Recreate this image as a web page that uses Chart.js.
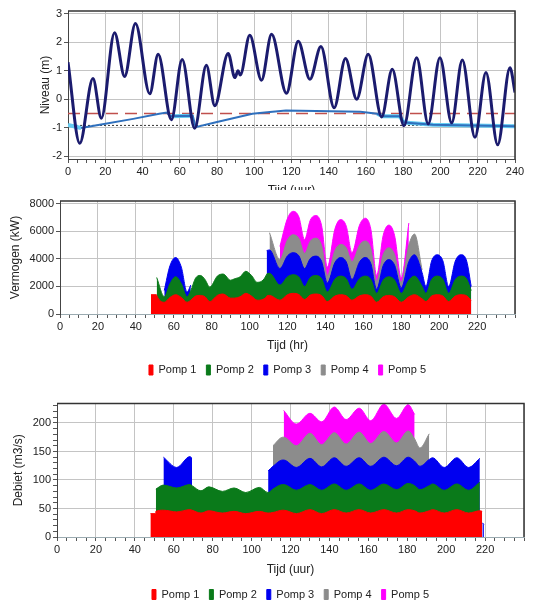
<!DOCTYPE html>
<html>
<head>
<meta charset="utf-8">
<script src="https://cdn.jsdelivr.net/npm/chart.js@4.4.1/dist/chart.umd.min.js"></script>
<style>
  html, body { margin: 0; padding: 0; background: #fff; overflow: hidden; width: 535px; height: 605px; }
  .paneel { position: absolute; left: 0; width: 535px; background: #fff; }
  .paneel canvas { display: block; }
  #p1 { top: 0; height: 200px; }
  #p2 { top: 190px; height: 200px; }
  #p3 { top: 395px; height: 215px; }
</style>
</head>
<body>
<div class="paneel" id="p1"><canvas id="niveau" width="535" height="200"></canvas></div>
<div class="paneel" id="p2"><canvas id="vermogen" width="535" height="200"></canvas></div>
<div class="paneel" id="p3"><canvas id="debiet" width="535" height="215"></canvas></div>
<script>
// --- as-labels ---
const tijdTicks = [0, 20, 40, 60, 80, 100, 120, 140, 160, 180, 200, 220, 240]
const niveauTicks = [-2, -1, 0, 1, 2, 3]
const vermogenTicks = [0, 2000, 4000, 6000, 8000]
const debietTicks = [0, 50, 100, 150, 200]

// --- niveau (m) ---
const tijdBuiten = [0, 6.3, 13.4, 17.9, 25, 30.4, 36.2, 43.9, 48.4, 55.5, 61.3, 68, 74.3, 78.8, 86, 89.6, 91.3, 92.5, 97.6, 103.9, 109.3, 117.3, 123.6, 129.9, 135.8, 142.9, 149, 155, 161.2, 168.4, 174.1, 180.4, 187.2, 193.4, 199.7, 206, 211.7, 218.5, 224.4, 230.7, 237.3, 240]
const niveauBuiten = [1.3, -1.55, 0.73, -0.67, 2.34, 0.8, 2.66, 0.19, 1.58, -0.72, 1.4, -1.02, 1.19, -0.23, 1.61, 0.76, 1.0, 0.85, 2.25, 0.67, 2.28, 0.21, 2.04, 0.7, 1.85, -0.3, 1.43, 0.0, 1.58, -0.62, 1.05, -0.93, 1.46, -0.87, 1.46, -0.83, 1.38, -1.34, 0.94, -1.6, 1.11, 0.24]

const tijdBinnen = [0, 7, 17, 35, 49, 53, 55, 67, 68.5, 80, 99, 107, 117, 157, 166, 169, 178, 180.5, 196, 218, 240]
const peilBlauw = [null, -1.01, -0.9, -0.69, -0.51, -0.47, -0.6, -0.58, -0.98, -0.8, -0.51, -0.46, -0.4, -0.44, -0.51, -0.6, -0.6, -0.82, -0.9, -0.92, -0.95]
const peilCyaan = [-0.9, -1.01, null, null, null, null, -0.6, -0.58, null, null, null, null, null, null, -0.51, -0.6, -0.6, -0.82, -0.9, -0.92, -0.95]

const grensTijd = [0, 240]
const maxPeil = [-0.5, -0.5]
const minPeil = [-0.92, -0.92]

// --- vermogen (kW) per pomp ---
const tijdVermogen = [48, 50.9, 51, 55, 58, 61, 64, 67, 69, 71.5, 74, 76.5, 79, 83, 86, 90, 92, 95, 98, 101, 104, 108.9, 109, 110.5,
    116, 120, 123, 126, 129, 132, 135, 138, 141, 145, 148, 151, 154, 158, 161, 164, 167, 170.5, 173.5, 176.5, 180, 184, 187, 191, 193, 196, 199, 202, 205, 208.5, 211.5, 214.5, 216.9]
const vPomp1 = [1400, 1400, 1350, 850, 1200, 1400, 1200, 850, 1000, 1300, 1350, 1250, 900, 1350, 1450, 1150, 1150, 1250, 1500, 1300, 1000, 1250, 1300, 1350,
    1000, 1400, 1500, 1410, 1050, 1370, 1450, 1340, 900, 1300, 1400, 1320, 1000, 1320, 1400, 1290, 850, 1250, 1350, 1250, 850, 1250, 1400, 1100, 900, 1300, 1400, 1300, 900, 1300, 1400, 1320, 1000]
const vPomp2 = [null, null, 1300, 400, 1000, 1300, 1000, 400, 700, 1300, 1450, 1250, 1050, 1400, 1450, 1300, 1400, 1450, 1600, 1500, 1300, 1600, 1600, 1600,
    1100, 1300, 1350, 1270, 950, 1270, 1350, 1220, 700, 1220, 1350, 1240, 800, 1240, 1350, 1210, 650, 1210, 1350, 1210, 650, 1200, 1350, 900, 600, 1200, 1350, 1200, 600, 1200, 1350, 1220, 700]
const vPomp3 = [null, null, null, 450, 1300, 1400, 1200, 350, 400, null, null, null, null, null, null, null, null, null, null, null, null, null, 1700, 1700,
    1200, 1520, 1600, 1540, 1300, 1380, 1400, 1250, 650, 1210, 1350, 1220, 700, 1220, 1350, 1140, 300, 1060, 1250, 1080, 400, 1350, 1550, 1000, 500, 1340, 1550, 1340, 500, 1340, 1550, 1300, 300]
const vPomp4 = [null, null, null, null, null, null, null, null, null, null, null, null, null, null, null, null, null, null, null, null, null, null, null, 1250,
    650, 1170, 1300, 1260, 1100, 1260, 1300, 1150, 550, 870, 950, 1020, 1300, 1220, 1200, 1080, 600, 800, 850, 760, 400, 1200, 1500, 200, null, null, null, null, null, null, null, null, null]
const vPomp5 = [null, null, null, null, null, null, null, null, null, null, null, null, null, null, null, null, null, null, null, null, null, null, null, null,
    950, 1550, 1700, 1560, 1000, 1520, 1650, 1440, 600, 1560, 1800, 1570, 650, 1450, 1650, 1400, 400, 1400, 1650, 1380, 300, 1600, null, null, null, null, null, null, null, null, null, null, null]

// --- debiet (m3/s) per pomp ---
const tijdDebiet = [48, 50.7, 50.8, 54.6, 54.7, 61.5, 68.3, 69.4, 74, 78, 85, 91, 97, 104, 108.4, 108.5, 111, 116, 116.5, 123, 130, 136, 142.5, 148.6, 155.3, 161.2, 168, 174.5, 180.5, 183.8, 186.5, 191.3, 193, 199, 205.5, 211.5, 217.3, 218.5, 218.6, 219.4]
const dPomp1 = [41, 41, 45, 47, 47, 44, 48, 47, 42, 46, 42, 45, 41, 45, 42, 42, 43, 47, 47, 41, 48, 41, 48, 42, 48, 42, 48, 42, 48, 46, 42, 46, 48, 42, 48, 42, 46, 45, null, null]
const dPomp2 = [null, null, 39, 44, 44, 42, 44, 43, 39, 42, 38, 41, 37, 42, 36, 36, 41, 45, 45, 41, 44, 41, 45, 40, 45, 40, 45, 41, 46, 44, 41, 44, 45, 40, 45, 40, 50, null, null, null]
const dPomp3 = [null, null, null, null, 49, 36, 49, 48, null, null, null, null, null, null, null, 38, 40, 43, 43, 40, 46, 41, 46, 42, 46, 42, 47, 42, 46, 43, 41, 46, 46, 40, 46, 40, 42, null, 25, 22]
const dPomp4 = [null, null, null, null, null, null, null, null, null, null, null, null, null, null, null, null, 36, 40, 40, 38, 44, 39, 44, 39, 45, 40, 45, 40, 46, 39, 32, 45, null, null, null, null, null, null, null, null]
const dPomp5 = [null, null, null, null, null, null, null, null, null, null, null, null, null, null, null, null, null, null, 47, 38, 35, 40, 45, 43, 42, 40, 48, 43, 46, 43, null, null, null, null, null, null, null, null, null, null]

const pompNamen = ['Pomp 1', 'Pomp 2', 'Pomp 3', 'Pomp 4', 'Pomp 5']
const pompKleuren = ['#ff0000', '#0a7a1a', '#0000f0', '#8c8c8c', '#ff00ff']

Chart.defaults.font.family = '"Liberation Sans", Arial, sans-serif'
Chart.defaults.font.size = 11
Chart.defaults.color = '#222'
Chart.defaults.animation = false

const toPts = (tijd, waarden) => tijd.map((t, i) => ({x: t, y: waarden[i]}))

// boven- en rechterrand van het plotvlak
const kader = {
    id: 'kader',
    afterDatasetsDraw(chart) {
        const {ctx, chartArea: a} = chart
        ctx.save()
        ctx.strokeStyle = '#333'
        ctx.lineWidth = 1.5
        ctx.beginPath()
        ctx.moveTo(a.left, a.top)
        ctx.lineTo(a.right, a.top)
        ctx.lineTo(a.right, a.bottom)
        ctx.stroke()
        ctx.restore()
    }
}

// legenda centreren onder het plotvlak i.p.v. onder het hele canvas
const legendaMidden = {
    id: 'legendaMidden',
    afterLayout(chart) {
        const l = chart.legend
        if (!l) return
        const a = chart.chartArea
        const w = l.right - l.left
        const mid = (a.left + a.right) / 2
        l.left = mid - w / 2
        l.right = mid + w / 2
    }
}

function tijdAs(titel, laatsteLabel, hoogte, randKleur) {
    const labels = tijdTicks.filter(v => v <= laatsteLabel)
    return {
        type: 'linear', min: 0, max: 240,
        afterFit: s => { s.height = hoogte },
        ticks: {
            stepSize: 5, autoSkip: false, maxRotation: 0, minRotation: 0, padding: 2,
            callback: v => labels.includes(v) ? v : ''
        },
        grid: {
            color: c => (c.tick && tijdTicks.includes(c.tick.value)) ? '#c4c4c4' : 'rgba(0,0,0,0)',
            tickColor: '#555', tickLength: 4
        },
        border: { color: randKleur },
        title: { display: true, text: titel, font: {size: 12}, padding: {top: 0, bottom: 2} }
    }
}

function waardeAs(titel, min, max, labels, minorStap, breedte, gestapeld) {
    return {
        min: min, max: max, stacked: gestapeld,
        afterFit: s => { s.width = breedte },
        afterBuildTicks: s => {
            const lijst = []
            for (let v = labels[0]; v <= max + 1e-9; v += minorStap) lijst.push({value: v})
            s.ticks = lijst
        },
        ticks: {
            autoSkip: false, padding: 2,
            callback: v => labels.includes(v) ? v : ''
        },
        grid: {
            color: c => (c.tick && labels.includes(c.tick.value)) ? '#c4c4c4' : 'rgba(0,0,0,0)',
            tickColor: '#555', tickLength: 4
        },
        border: { color: '#444' },
        title: { display: true, text: titel, font: {size: 12}, padding: {top: 4, bottom: 4} }
    }
}

// paneel 1: niveaus
new Chart(document.getElementById('niveau').getContext('2d'), {
    type: 'line',
    data: {
        datasets: [
            { data: toPts(tijdBuiten, niveauBuiten), borderColor: '#1b1b6e', borderWidth: 3, tension: 0.4, cubicInterpolationMode: 'monotone' },
            { data: toPts(tijdBinnen, peilBlauw), borderColor: '#2f70bd', borderWidth: 2 },
            { data: toPts(tijdBinnen, peilCyaan), borderColor: '#66ccf2', borderWidth: 4 },
            { data: toPts(grensTijd, maxPeil), borderColor: '#c0504d', borderWidth: 1.5, borderDash: [12, 7] },
            { data: toPts(grensTijd, minPeil), borderColor: '#333', borderWidth: 1, borderDash: [2, 2] }
        ]
    },
    options: {
        responsive: false,
        devicePixelRatio: 1,
        layout: { padding: {top: 11, right: 20, left: 34, bottom: 0} },
        elements: { point: { radius: 0 } },
        plugins: { legend: { display: false }, tooltip: { enabled: false } },
        scales: {
            x: tijdAs('Tijd (uur)', 240, 41, '#444'),
            y: waardeAs('Niveau (m)', -2.1, 3.1, niveauTicks, 1, 34, false)
        }
    },
    plugins: [kader]
})

function pompSets(tijd, reeksen) {
    return reeksen.map((r, i) => ({
        label: pompNamen[i],
        data: toPts(tijd, r),
        backgroundColor: pompKleuren[i],
        borderColor: pompKleuren[i],
        borderWidth: 1,
        fill: 'origin',
        tension: 0.4,
        cubicInterpolationMode: 'monotone'
    }))
}

const pompLegenda = {
    position: 'bottom',
    labels: { boxWidth: 4, boxHeight: 10, padding: 10, font: {size: 11} }
}

// paneel 2: vermogen
new Chart(document.getElementById('vermogen').getContext('2d'), {
    type: 'line',
    data: { datasets: pompSets(tijdVermogen, [vPomp1, vPomp2, vPomp3, vPomp4, vPomp5]) },
    options: {
        responsive: false,
        devicePixelRatio: 1,
        layout: { padding: {top: 11, right: 20, left: 4, bottom: 4.5} },
        elements: { point: { radius: 0 } },
        plugins: { legend: pompLegenda, tooltip: { enabled: false } },
        scales: {
            x: tijdAs('Tijd (hr)', 220, 40.5, '#9aaab0'),
            y: waardeAs('Vermogen (kW)', 0, 8200, vermogenTicks, 2000, 56, true)
        }
    },
    plugins: [kader, legendaMidden]
})

// paneel 3: debiet
new Chart(document.getElementById('debiet').getContext('2d'), {
    type: 'line',
    data: { datasets: pompSets(tijdDebiet, [dPomp1, dPomp2, dPomp3, dPomp4, dPomp5]) },
    options: {
        responsive: false,
        devicePixelRatio: 1,
        layout: { padding: {top: 2, right: 11, left: 7, bottom: 0} },
        elements: { point: { radius: 0 } },
        plugins: { legend: pompLegenda, tooltip: { enabled: false } },
        scales: {
            x: tijdAs('Tijd (uur)', 220, 42, '#9aaab0'),
            y: waardeAs('Debiet (m3/s)', 0, 234, debietTicks, 10, 50, true)
        }
    },
    plugins: [kader, legendaMidden]
})
</script>
</body>
</html>
